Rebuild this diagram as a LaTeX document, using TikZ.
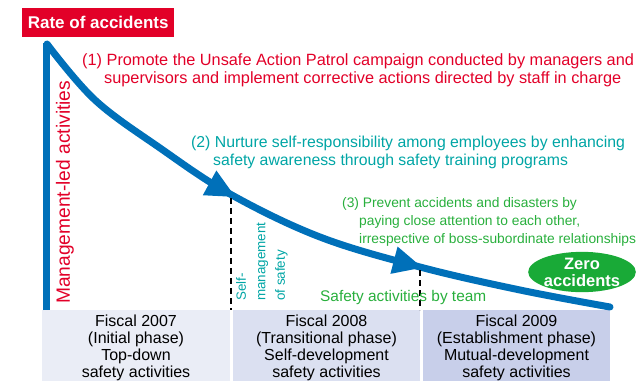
\documentclass[tikz,border=0pt]{standalone}
\usepackage{fontspec}
\setmainfont{Liberation Sans}
\usetikzlibrary{arrows.meta,decorations.markings,shapes.geometric}
\definecolor{accred}{RGB}{226,0,40}
\definecolor{accblue}{RGB}{0,112,185}
\definecolor{accteal}{RGB}{0,165,165}
\definecolor{accgreen}{RGB}{40,175,60}
\definecolor{zerogreen}{RGB}{25,170,55}
\definecolor{boxa}{RGB}{234,237,246}
\definecolor{boxb}{RGB}{219,224,241}
\definecolor{boxc}{RGB}{200,207,234}
\tikzset{
  curveline/.style={draw=accblue, line width=7pt},
  phasetext/.style={align=center, font=\fontsize{16}{17}\selectfont, text=black, inner sep=0pt},
  dashline/.style={draw=black, line width=1.5pt, dash pattern=on 6pt off 4pt},
  redtext/.style={text=accred, font=\fontsize{16.3}{19}\selectfont, inner sep=0pt},
  tealtext/.style={text=accteal, font=\fontsize{15.8}{19}\selectfont, inner sep=0pt},
  greentext/.style={text=accgreen, font=\fontsize{13.8}{16}\selectfont, inner sep=0pt},
}
\begin{document}
\begin{tikzpicture}[x=1pt,y=-1pt]
\useasboundingbox (0,0) rectangle (640,381);
% phase boxes
\fill[boxa] (42,310) rectangle (230,381);
\fill[boxb] (233,310) rectangle (420,381);
\fill[boxc] (423,310) rectangle (610,381);
\node[phasetext] (p1) at (136,348) {Fiscal 2007\\(Initial phase)\\Top-down\\safety activities};
\node[phasetext] (p2) at (326.5,348) {Fiscal 2008\\(Transitional phase)\\Self-development\\safety activities};
\node[phasetext] (p3) at (516.5,348) {Fiscal 2009\\(Establishment phase)\\Mutual-development\\safety activities};
% title
\node[fill=accred, text=white, font=\bfseries\fontsize{17}{20}\selectfont, minimum width=152pt, minimum height=29pt, inner sep=0pt, anchor=north west] (title) at (22,8) {Rate of accidents};
% axis
\coordinate (top) at (46.5,43);
\coordinate (bot) at (46.5,310);
\draw[curveline] (bot) -- (top);
% curve
\draw[curveline, line cap=round, postaction={decorate}, decoration={markings,
   mark=at position 0.385 with {\arrow{Triangle[length=30pt,width=26pt]}},
   mark=at position 0.70 with {\arrow{Triangle[length=30pt,width=26pt]}}}]
  plot[smooth, tension=0.6] coordinates {(47,44) (95,100) (160,148) (230,194) (320,237) (420,267) (520,290) (610,307)};
% dashed lines
\coordinate (d1t) at (231,198);
\coordinate (d1b) at (231,310);
\coordinate (d2t) at (420,270);
\coordinate (d2b) at (420,310);
\draw[dashline] (d1t) -- (d1b);
\draw[dashline] (d2t) -- (d2b);
% management-led
\node[text=accred, font=\fontsize{19.2}{22}\selectfont, rotate=90, anchor=west, inner sep=0pt] (mgmt) at (65,304) {Management-led activities};
% (1)
\node[redtext, anchor=base west] (t1a) at (82,65) {(1) Promote the Unsafe Action Patrol campaign conducted by managers and};
\node[redtext, anchor=base west] (t1b) at (104,83) {supervisors and implement corrective actions directed by staff in charge};
% (2)
\node[tealtext, anchor=base west] (t2a) at (191,147) {(2) Nurture self-responsibility among employees by enhancing};
\node[tealtext, anchor=base west] (t2b) at (213,165) {safety awareness through safety training programs};
% (3)
\node[greentext, anchor=base west] (t3a) at (342,207) {(3) Prevent accidents and disasters by};
\node[greentext, anchor=base west] (t3b) at (359,225) {paying close attention to each other,};
\node[greentext, anchor=base west] (t3c) at (359,243) {irrespective of boss-subordinate relationships};
% self management
\node[text=accteal, font=\fontsize{13.4}{19.5}\selectfont, rotate=90, anchor=north west, align=left, inner sep=0pt] (selfm) at (236,301) {Self-\\management\\of safety};
% team
\node[text=accgreen, font=\fontsize{15.4}{18}\selectfont, anchor=base west, inner sep=0pt] (team) at (320,301) {Safety activities by team};
% zero accidents
\node[ellipse, fill=zerogreen, minimum width=105pt, minimum height=37pt, inner sep=0pt, text=white, font=\bfseries\fontsize{16.5}{17}\selectfont, align=center] (zero) at (582,272) {Zero\\accidents};
\end{tikzpicture}
\end{document}
